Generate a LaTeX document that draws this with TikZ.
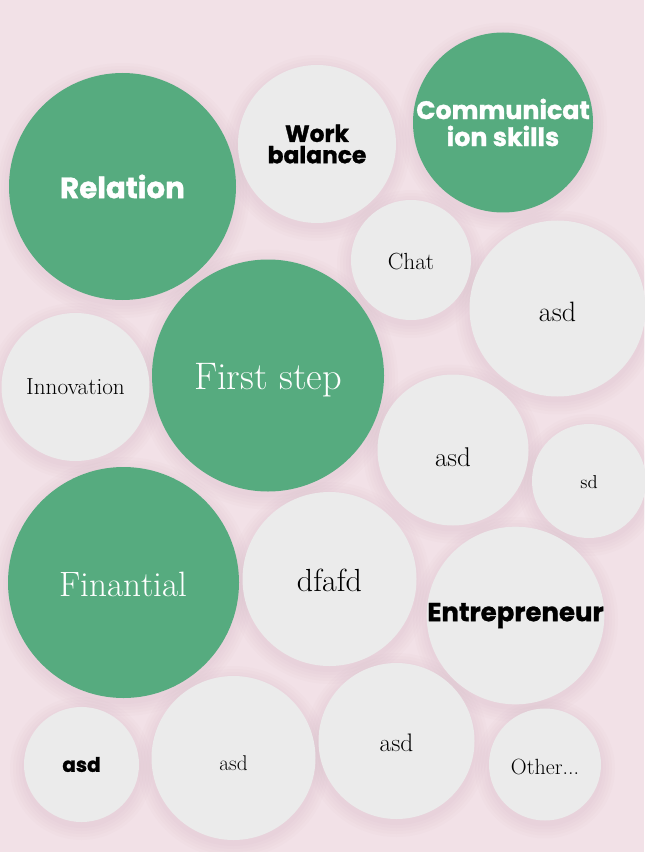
\documentclass[tikz,border=0pt]{standalone}
\usepackage{fontspec}
\newfontfamily\pop{Poppins}[BoldFeatures={FakeBold=1.2}]
\definecolor{bgpink}{RGB}{242,225,231}
\definecolor{bubgreen}{RGB}{86,171,127}
\definecolor{bubgray}{RGB}{235,235,235}
\definecolor{shade}{RGB}{150,110,125}
\tikzset{
  bub/.style={circle, inner sep=0pt, minimum size=#1, align=center},
  gbub/.style={bub=#1, fill=bubgreen, text=white},
  wbub/.style={bub=#1, fill=bubgray, text=black},
  popb/.style={font=\pop\bfseries\fontsize{#1}{#1}\selectfont},
  ser/.style 2 args={font=\fontsize{#1}{#1}\selectfont, text depth=0pt, text height=#2*1.5pt},
  soft/.style={fill=shade, opacity=0.018}
}
\newcommand{\softshadow}[3]{%
  \foreach \k in {2,5,8,11,14} {\fill[soft] (#1,#2+4) circle[radius=(#3+\k)*0.75pt];}%
}
\begin{document}
\begin{tikzpicture}[x=0.75pt,y=-0.75pt]
\fill[bgpink] (0,0) rectangle (644,852);
\useasboundingbox (0,0) rectangle (644,852);
\softshadow{122.5}{186.5}{113.5}
\softshadow{317}{144}{79}
\softshadow{503}{122.5}{90}
\softshadow{411}{260}{60}
\softshadow{557.5}{308.5}{88}
\softshadow{268}{375.5}{116}
\softshadow{75.5}{387}{74}
\softshadow{453}{450}{75.5}
\softshadow{589}{481}{57}
\softshadow{123.5}{582.5}{115.5}
\softshadow{329.5}{579}{87}
\softshadow{515.5}{615.5}{88.5}
\softshadow{81.5}{764.5}{57.5}
\softshadow{233.5}{758}{82}
\softshadow{396.5}{741}{78}
\softshadow{545}{764.5}{56}
\node[gbub=170.25pt, popb=22pt] (relation) at (122.5,186.5) {Relation};
\node[wbub=118.5pt, font=\pop\bfseries\fontsize{17.5pt}{17pt}\selectfont] (work) at (317,144) {Work\\[-1pt]balance};
\node[gbub=135pt, font=\pop\bfseries\fontsize{19pt}{20.25pt}\selectfont] (comm) at (503,122.5) {Communicat\\ion skills};
\node[wbub=90pt, ser={17.5pt}{9}] (chat) at (411,260) {Chat};
\node[wbub=132pt, ser={21pt}{12.5}] (asda) at (557.5,308.5) {asd};
\node[gbub=174pt, ser={28.8pt}{13.5}] (first) at (268,375.5) {First step};
\node[wbub=111pt, ser={17.4pt}{7}] (innov) at (75.5,387) {Innovation};
\node[wbub=113.25pt, ser={20.3pt}{16}] (asdb) at (453,450) {asd};
\node[wbub=85.5pt, ser={14pt}{7}] (sd) at (589,481) {sd};
\node[gbub=173.25pt, ser={26.4pt}{13.5}] (fin) at (123.5,582.5) {Finantial};
\node[wbub=130.5pt, ser={24pt}{12}] (dfafd) at (329.5,579) {dfafd};
\node[wbub=132.75pt, popb=19.5pt] (entre) at (515.5,615.5) {Entrepreneur};
\node[wbub=86.25pt, popb=15pt] (asdbold) at (81.5,764.5) {asd};
\node[wbub=123pt, ser={16pt}{12}] (asdc) at (233.5,758) {asd};
\node[wbub=117pt, ser={19pt}{10}] (asdd) at (396.5,741) {asd};
\node[wbub=84pt, ser={16.5pt}{9.5}] (other) at (545,764.5) {Other...};
\end{tikzpicture}
\end{document}
